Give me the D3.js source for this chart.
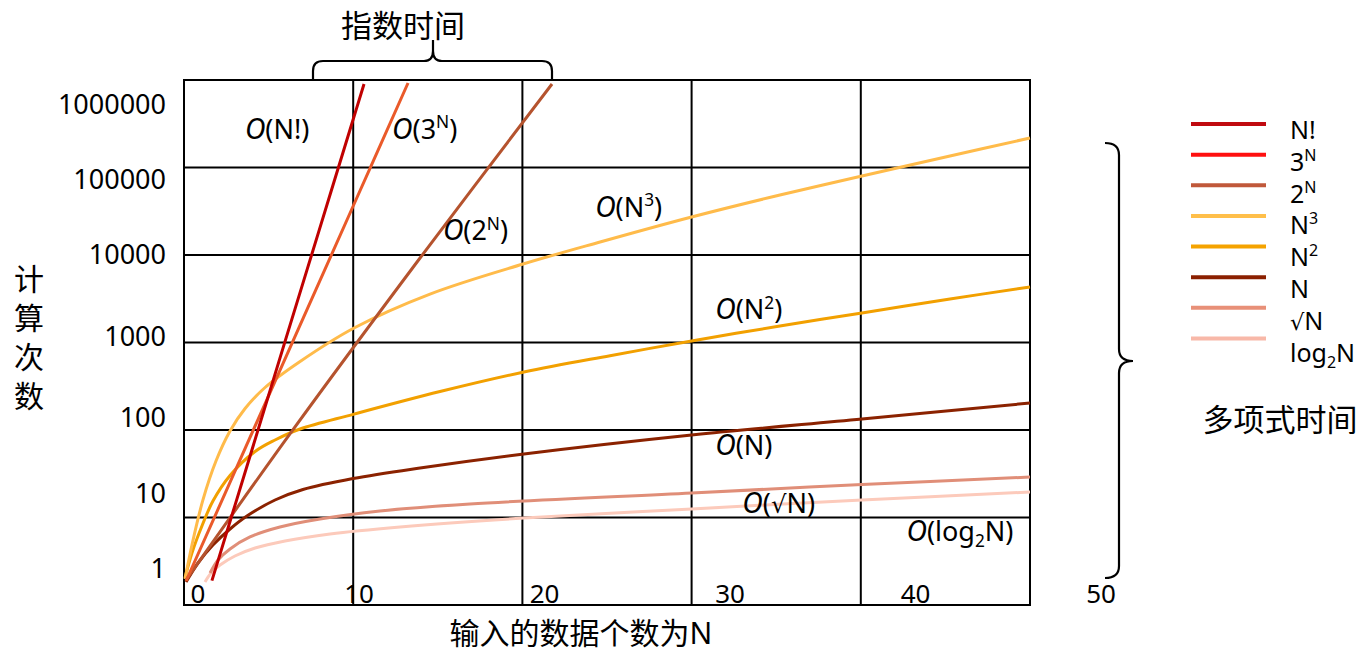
<!DOCTYPE html>
<html>
<head>
<meta charset="utf-8">
<script src="https://cdn.jsdelivr.net/npm/d3@7"></script>
<style>
  html, body { margin: 0; padding: 0; background: #fff; }
  svg text { font-family: "Noto Sans", "Noto Sans CJK SC", sans-serif; fill: #000; }
</style>
</head>
<body>
<svg id="chart" width="1362" height="651"></svg>
<script>
// ---- data: input size N and operation count for each complexity class ----
const factN   = [1.65, 4, 6, 8, 10, 10.64];
const factV   = [1.9, 58, 1070, 19500, 356000, 900000];
const pow3N   = [0.12, 5, 10, 13.24];
const pow3V   = [1.88, 246, 36300, 924000];
const pow2N   = [0.12, 6.38, 13.95, 21.75];
const pow2V   = [1.93, 97, 9240, 900000];
const cubeN   = [0.06, 0.47, 1.12, 1.89, 2.72, 3.61, 4.79, 6.86, 10.05, 14.54, 20.04, 24.59, 30, 35.22, 40.07, 45.27, 50];
const cubeV   = [1.98, 4.85, 15.9, 44.2, 97.4, 176, 306, 607, 1465, 3580, 7890, 14080, 27200, 48500, 80000, 135300, 217400];
const squareN = [0.06, 0.47, 1.06, 1.71, 2.72, 4.2, 5.38, 6.86, 10.05, 15.13, 20.09, 25.18, 30, 35.22, 40.07, 45.27, 50];
const squareV = [2.04, 3.93, 8.0, 15.4, 30.2, 56.8, 76.9, 102.7, 152, 275, 460, 707, 1040, 1544, 2174, 3142, 4309];
const linearN = [0.12, 0.83, 1.71, 2.72, 3.72, 5.38, 7.03, 9.99, 13.95, 20.09, 30, 40.07, 50];
const linearV = [1.83, 3.02, 4.85, 7.39, 10.4, 15.85, 20.9, 27.9, 36.8, 53.2, 87.7, 133.6, 203.5];
const sqrtN   = [1.54, 2.01, 2.72, 3.9, 5.67, 8.04, 11.58, 16.9, 30, 40.07, 50];
const sqrtV   = [2.32, 3.27, 4.37, 5.99, 7.79, 9.61, 11.87, 14.27, 19.05, 23.8, 29.0];
const logN    = [1.24, 1.6, 2.13, 3.01, 4.2, 5.97, 8.63, 12.77, 20.09, 30, 40.07, 50];
const logV    = [1.83, 2.32, 2.86, 3.63, 4.48, 5.39, 6.48, 7.79, 9.87, 12.51, 15.85, 19.56];

const seriesNames  = ["N!", "3^N", "2^N", "N^3", "N^2", "N", "√N", "log_2N"];
const lineColors   = ["#c00000", "#ea5a2a", "#b5532e", "#ffbb4a", "#f2a000", "#8b2200", "#e08e78", "#fccabb"];
const legendColors = ["#c00a10", "#ff1010", "#c0583a", "#ffbf4a", "#f5a300", "#8b2000", "#e89078", "#f8b8a8"];

const yGridValues = [1, 10, 100, 1000, 10000, 100000, 1000000];
const yTickLabels = ["1", "10", "100", "1000", "10000", "100000", "1000000"];
const xGridValues = [0, 10, 20, 30, 40, 50];
const xTickLabels = ["0", "10", "20", "30", "40", "50"];

// complexity annotations inside the plot: text and anchor (N, count)
const noteTexts = ["(N!)", "(3^N)", "(2^N)", "(N^3)", "(N^2)", "(N)", "(√N)", "(log_2N)"];
const noteN     = [3.6, 12.3, 15.3, 24.3, 31.4, 31.4, 33, 42.7];
const noteV     = [270000, 270000, 18800, 35000, 2350, 66.5, 14.6, 7.0];

const series = [
  [factN, factV], [pow3N, pow3V], [pow2N, pow2V], [cubeN, cubeV],
  [squareN, squareV], [linearN, linearV], [sqrtN, sqrtV], [logN, logV]
].map(([ns, vs], i) => ({
  name: seriesNames[i],
  color: lineColors[i],
  legendColor: legendColors[i],
  points: ns.map((n, k) => ({ n, v: vs[k] }))
}));

// ---- layout ----
const svg = d3.select("#chart");
const plot = { left: 184, right: 1030, top: 80, bottom: 605 };

const x = d3.scaleLinear().domain([0, 50]).range([plot.left, plot.right]);
const y = d3.scaleLog().domain([1, 1000000]).range([plot.bottom, plot.top]);

// tick label placement
const xLabelPos = d3.scaleLinear().domain([0, 10, 50]).range([198, 359, 1101]);
const yLabelPos = d3.scaleLinear().domain([0, 2, 4, 6]).range([569, 418, 255, 105]);

// append a plain run, drawing the radical sign with a font that spaces it tightly
function addRun(textSel, s, fs, dy) {
  const parts = s.split(/(√)/).filter(p => p.length);
  parts.forEach((p, k) => {
    const t = textSel.append("tspan").attr("font-size", fs).text(p);
    if (k === 0) t.attr("dy", dy);
    if (p === "√") t.style("font-family", "'DejaVu Sans', sans-serif").attr("font-size", fs * 0.9);
  });
}

// rich text: ^c superscript, _c subscript (single character)
function addRich(textSel, str, fs) {
  let i = 0, shift = 0;
  while (i < str.length) {
    const c = str[i];
    if (c === "^" || c === "_") {
      const d = c === "^" ? -0.4 * fs : 0.25 * fs;
      textSel.append("tspan").attr("dy", d - shift).attr("font-size", fs * 0.64).text(str[i + 1]);
      shift = d;
      i += 2;
      continue;
    }
    let j = i;
    while (j < str.length && str[j] !== "^" && str[j] !== "_") j++;
    addRun(textSel, str.slice(i, j), fs, -shift);
    shift = 0;
    i = j;
  }
}

// ---- grid ----
const grid = svg.append("g").attr("stroke", "#000").attr("stroke-width", 2).attr("fill", "none");
grid.selectAll("line.h").data(yGridValues).join("line")
  .attr("class", "h")
  .attr("x1", plot.left - 1).attr("x2", plot.right + 1)
  .attr("y1", d => y(d)).attr("y2", d => y(d));
grid.selectAll("line.v").data(xGridValues).join("line")
  .attr("class", "v")
  .attr("x1", d => x(d)).attr("x2", d => x(d))
  .attr("y1", plot.top).attr("y2", plot.bottom);

// ---- curves ----
const line = d3.line().x(d => x(d.n)).y(d => y(d.v)).curve(d3.curveCatmullRom.alpha(0.5));
svg.append("g").selectAll("path").data(series.slice().reverse()).join("path")
  .attr("d", d => line(d.points))
  .attr("fill", "none")
  .attr("stroke", d => d.color)
  .attr("stroke-width", 3)
  .attr("stroke-linecap", "butt");

// ---- tick labels ----
svg.append("g").selectAll("text").data(yTickLabels).join("text")
  .attr("x", 166)
  .attr("y", (d, i) => yLabelPos(i))
  .attr("dy", "0.35em")
  .attr("text-anchor", "end")
  .attr("font-size", 27)
  .text(d => d);

svg.append("g").selectAll("text").data(xTickLabels).join("text")
  .attr("x", (d, i) => xLabelPos(xGridValues[i]))
  .attr("y", 594)
  .attr("dy", "0.35em")
  .attr("text-anchor", "middle")
  .attr("font-size", 26)
  .text(d => d);

// ---- axis titles ----
svg.append("text")
  .attr("x", 581).attr("y", 633).attr("dy", "0.35em")
  .attr("text-anchor", "middle").attr("font-size", 30)
  .text("输入的数据个数为N");

svg.append("g").selectAll("text").data(Array.from("计算次数")).join("text")
  .attr("x", 29).attr("y", (d, i) => 279 + i * 39).attr("dy", "0.35em")
  .attr("text-anchor", "middle").attr("font-size", 30)
  .text(d => d);

// ---- annotations ----
const noteFs = 27;
noteTexts.forEach((t, i) => {
  const txt = svg.append("text")
    .attr("x", x(noteN[i]))
    .attr("y", y(noteV[i]) + 0.35 * noteFs)
    .attr("font-size", noteFs);
  txt.append("tspan").attr("font-style", "italic").attr("font-size", noteFs * 1.05).text("O");
  addRich(txt, t, noteFs);
});

// ---- braces ----
const braceStyle = sel => sel.attr("fill", "none").attr("stroke", "#000").attr("stroke-width", 2.2)
  .attr("stroke-linejoin", "round");

svg.append("path").call(braceStyle).attr("d",
  "M313,81 L313,71 Q313,61 323,61 L424,61 Q433,61 433,51 L433,40 " +
  "M433,51 Q433,61 442,61 L542,61 Q552,61 552,71 L552,81");
svg.append("text")
  .attr("x", 403).attr("y", 26).attr("dy", "0.35em")
  .attr("text-anchor", "middle").attr("font-size", 31)
  .text("指数时间");

svg.append("path").call(braceStyle).attr("d",
  "M1105,143 Q1119,143 1119,155 L1119,349 Q1119,361 1133,361 " +
  "M1133,361 Q1119,361 1119,373 L1119,566 Q1119,578 1105,578");
svg.append("text")
  .attr("x", 1280).attr("y", 420).attr("dy", "0.35em")
  .attr("text-anchor", "middle").attr("font-size", 31)
  .text("多项式时间");

// ---- legend ----
const legendLineY = d3.scaleLinear().domain([0, 7]).range([124, 338.5]);
const legendTextY = d3.scaleLinear().domain([0, 7]).range([139, 361.5]);
const legendFs = 25;
const legend = svg.append("g");
series.forEach((s, i) => {
  legend.append("line")
    .attr("x1", 1191).attr("x2", 1266)
    .attr("y1", legendLineY(i)).attr("y2", legendLineY(i))
    .attr("stroke", s.legendColor).attr("stroke-width", 4);
  const txt = legend.append("text")
    .attr("x", 1290).attr("y", legendTextY(i))
    .attr("font-size", legendFs);
  addRich(txt, s.name, legendFs);
});
</script>
</body>
</html>
